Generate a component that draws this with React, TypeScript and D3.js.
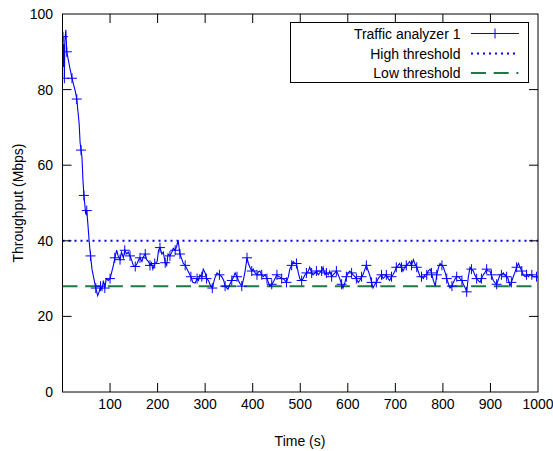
import React from "react";
import * as d3 from "d3";

const times: number[] = [
  0, 1, 2, 3, 4, 5, 7, 9, 12, 15, 20, 24, 27, 30, 35, 37, 39, 41, 43, 45, 47, 49, 51, 53, 56, 59, 62, 66, 70, 74, 77,
  80, 83, 86, 89, 92, 96, 100, 104, 107, 110, 114, 117, 121, 124, 128, 131, 135, 138, 142, 145, 149, 153, 157, 160,
  163, 167, 170, 174, 177, 181, 184, 187, 190, 194, 199, 202, 205, 209, 212, 216, 219, 222, 226, 230, 233, 237, 240,
  243, 247, 250, 254, 258, 262, 266, 270, 274, 279, 283, 286, 289, 293, 296, 300, 303, 307, 310, 315, 320, 325, 330,
  335, 339, 342, 348, 352, 356, 360, 363, 367, 370, 374, 377, 381, 384, 388, 391, 394, 398, 401, 405, 409, 412, 415,
  419, 422, 426, 430, 433, 436, 440, 443, 447, 451, 454, 457, 461, 464, 468, 471, 475, 478, 482, 485, 489, 492, 496,
  499, 503, 506, 510, 513, 517, 520, 524, 527, 531, 534, 538, 541, 545, 548, 552, 555, 559, 562, 566, 569, 573, 576,
  580, 583, 587, 590, 594, 597, 601, 604, 608, 611, 615, 618, 622, 625, 629, 632, 636, 639, 643, 646, 650, 653, 657,
  660, 664, 667, 671, 674, 678, 681, 685, 688, 692, 695, 699, 702, 706, 709, 713, 716, 720, 723, 727, 730, 734, 738,
  741, 745, 748, 752, 755, 759, 762, 766, 769, 773, 776, 780, 784, 787, 791, 794, 798, 801, 805, 808, 812, 815, 819,
  822, 826, 829, 833, 836, 840, 843, 847, 850, 853, 857, 860, 864, 867, 871, 874, 878, 881, 885, 888, 892, 895, 899,
  902, 906, 909, 913, 916, 920, 923, 927, 930, 934, 937, 941, 944, 948, 951, 955, 959, 962, 966, 969, 973, 976, 980,
  983, 987, 990, 994, 997, 1000,
];

const throughput: number[] = [
  88, 94, 86, 92, 83, 93, 95.8, 90, 88, 86, 83, 81, 79.5, 77.5, 71, 66, 64, 62, 56, 52, 49.5, 47, 48, 45, 40, 36, 32.5,
  30, 27.5, 25.5, 26.5, 28, 27, 29.5, 27.5, 30, 29.5, 30, 32, 33.5, 35.5, 37.5, 36, 35, 37, 35.5, 37.5, 36.5, 37, 36,
  35, 33.5, 33.2, 34, 35, 35.5, 34.5, 35.8, 36.5, 35, 34.5, 33.5, 34.2, 32.5, 34, 34.5, 37.5, 38.2, 36.5, 37, 34.2,
  33.5, 36.5, 36, 37, 38, 37.5, 38.5, 40.2, 36.5, 35.5, 34, 33.5, 32.5, 31.5, 30.5, 29, 28.8, 30, 29.5, 31, 30.5, 32.5,
  31.5, 30, 29.5, 28.5, 27.5, 30, 31.5, 31, 30.5, 29.5, 28, 27.2, 28.5, 29.5, 30.5, 31.5, 30.5, 29.5, 28.5, 28, 30, 32,
  35.5, 34, 33, 32, 32.5, 31.5, 31, 31.8, 32, 31, 30.5, 31, 30, 29, 28, 28.5, 29, 30, 31, 30.5, 30.5, 30, 30, 29.5, 29,
  30.5, 32.5, 33.5, 34.5, 34, 34, 31.5, 30, 29.5, 30, 31, 31.5, 32, 33, 31.5, 31, 31.5, 32, 31, 31.5, 32, 33, 31, 31.5,
  31, 32, 30.5, 31, 31.5, 32, 31, 30, 28.5, 27.5, 29, 30.5, 31.5, 32, 31.5, 31, 30.5, 30, 29, 29.5, 30.5, 31, 32.5,
  33.5, 32, 31, 29, 27.5, 28.5, 29, 30, 30.5, 31, 30, 30.5, 31, 30, 29.5, 30.5, 31, 32, 33, 33.5, 34, 33, 32, 33, 33.5,
  34, 34.5, 33.5, 35, 34, 33, 32, 30.5, 30.5, 30, 31, 31, 32, 32.5, 31.5, 29.5, 28, 31, 33, 34, 33.5, 33, 31.5, 30,
  28.5, 27.5, 28, 29, 30, 30.5, 30.5, 30, 29.5, 28.5, 27.5, 26.5, 30, 33, 32.5, 32, 31, 30, 29.5, 29, 30, 31, 31.5,
  32.5, 32, 32, 31, 29.5, 29, 28.5, 29.5, 31, 31, 31.5, 31, 30.5, 30, 28, 29, 30.5, 31.5, 33, 34, 33, 32, 31, 30.5, 31,
  30.5, 31, 31, 30.5, 30.5, 30.5, 30.5,
];

const highThreshold = 40;
const lowThreshold = 28;

const xTicks: number[] = [100, 200, 300, 400, 500, 600, 700, 800, 900, 1000];
const yTicks: number[] = [0, 20, 40, 60, 80, 100];

const legendLabels: string[] = ["Traffic analyzer 1", "High threshold", "Low threshold"];

const W = 553;
const H = 451;
const L = 62.5;
const R = 538;
const T = 14;
const B = 392;
const FONT = "'Liberation Sans', Arial, Helvetica, sans-serif";
const BLUE = "#0000ff";
const GREEN = "#1d7a44";

export default function App() {
  const x = d3.scaleLinear().domain([0, 1000]).range([L, R]);
  const y = d3.scaleLinear().domain([0, 100]).range([B, T]);
  const pts = times.map((t, i) => [t, throughput[i]] as [number, number]);
  const line = d3
    .line<[number, number]>()
    .x((d) => x(d[0]))
    .y((d) => y(d[1]));
  const tl = 9;
  const ms = 5;

  const plus = (cx: number, cy: number, key: string | number) => (
    <path
      key={key}
      d={`M${cx - ms},${cy}H${cx + ms}M${cx},${cy - ms}V${cy + ms}`}
      stroke={BLUE}
      strokeWidth={1}
      fill="none"
    />
  );

  const legX1 = 471;
  const legX2 = 519;
  const legTextX = 460.5;
  const legRows = [38.5, 58.5, 78];

  return (
    <svg
      width={W}
      height={H}
      style={{ position: "absolute", left: 0, top: 0, background: "#fff" }}
      fontFamily={FONT}
      fontSize={14}
    >
      <rect x={0} y={0} width={W} height={H} fill="#fff" />
      <defs>
        <clipPath id="plotclip">
          <rect x={L} y={T} width={R - L} height={B - T} />
        </clipPath>
      </defs>

      {/* thresholds */}
      <line
        x1={L}
        x2={R}
        y1={y(highThreshold)}
        y2={y(highThreshold)}
        stroke={BLUE}
        strokeWidth={2}
        strokeDasharray="2,4"
      />
      <line
        x1={L}
        x2={R}
        y1={y(lowThreshold)}
        y2={y(lowThreshold)}
        stroke={GREEN}
        strokeWidth={2}
        strokeDasharray="15,7.7"
      />

      {/* series */}
      <g clipPath="url(#plotclip)">
        <path d={line(pts) || ""} fill="none" stroke={BLUE} strokeWidth={1.1} />
        {pts.filter((_, i) => i % 3 === 1).map((p, i) => plus(x(p[0]), y(p[1]), i))}
      </g>

      {/* frame */}
      <rect x={L} y={T} width={R - L} height={B - T} fill="none" stroke="#000" strokeWidth={1} />

      {/* ticks */}
      {xTicks.map((t) => (
        <g key={"xt" + t}>
          {t < 1000 && (
            <>
              <line x1={x(t)} x2={x(t)} y1={B} y2={B - tl} stroke="#000" strokeWidth={1} />
              <line x1={x(t)} x2={x(t)} y1={T} y2={T + tl} stroke="#000" strokeWidth={1} />
            </>
          )}
          <text x={x(t)} y={408.5} textAnchor="middle" fill="#000">
            {t}
          </text>
        </g>
      ))}
      {yTicks.map((t) => (
        <g key={"yt" + t}>
          {t > 0 && t < 100 && (
            <>
              <line x1={L} x2={L + tl} y1={y(t)} y2={y(t)} stroke="#000" strokeWidth={1} />
              <line x1={R} x2={R - tl} y1={y(t)} y2={y(t)} stroke="#000" strokeWidth={1} />
            </>
          )}
          <text x={53} y={y(t) + 5} textAnchor="end" fill="#000">
            {t}
          </text>
        </g>
      ))}

      {/* axis labels */}
      <text x={300} y={446} textAnchor="middle" fill="#000">
        Time (s)
      </text>
      <text
        transform={`translate(22.5,${(T + B) / 2}) rotate(-90)`}
        textAnchor="middle"
        fill="#000"
      >
        Throughput (Mbps)
      </text>

      {/* legend */}
      <rect x={290.5} y={22.5} width={238} height={60} fill="#fff" stroke="#000" strokeWidth={1} />
      {legendLabels.map((lab, i) => (
        <text key={lab} x={legTextX} y={legRows[i]} textAnchor="end" fill="#000">
          {lab}
        </text>
      ))}
      <line x1={legX1} x2={legX2} y1={legRows[0] - 5} y2={legRows[0] - 5} stroke={BLUE} strokeWidth={1} />
      {plus((legX1 + legX2) / 2, legRows[0] - 5, "lp")}
      <line
        x1={legX1}
        x2={legX2}
        y1={legRows[1] - 5}
        y2={legRows[1] - 5}
        stroke={BLUE}
        strokeWidth={2}
        strokeDasharray="2,4"
      />
      <line
        x1={legX1}
        x2={legX2}
        y1={legRows[2] - 5}
        y2={legRows[2] - 5}
        stroke={GREEN}
        strokeWidth={2}
        strokeDasharray="15,7.7,15,7.7,2,20"
      />
    </svg>
  );
}
